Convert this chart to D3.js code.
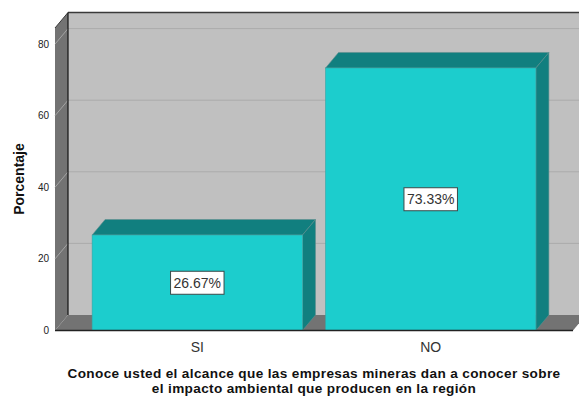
<!DOCTYPE html>
<html><head><meta charset="utf-8">
<script src="https://cdn.jsdelivr.net/npm/d3@7"></script>
<style>body{margin:0;background:#fff}svg{display:block}text{font-family:"Liberation Sans",Arial,sans-serif}</style>
</head><body>
<svg id="c" width="579" height="396"></svg>
<script>
const categories = ["SI", "NO"];
const values = [26.67, 73.33];
const labels = ["26.67%", "73.33%"];
const yTicks = [0, 20, 40, 60, 80];
const yTitle = "Porcentaje";
const xTitle = ["Conoce usted el alcance que las empresas mineras dan a conocer sobre", "el impacto ambiental que producen en la región"];

const svg = d3.select("#c");
const W = 579;
const dx = 13, dy = 15.5;
const x0 = 55, x1 = 573;
const y = d3.scaleLinear().domain([0, 84.5]).range([330.5, 28]);
const x = d3.scaleBand().domain(categories).range([x0, x1]).paddingInner(0.0987).paddingOuter(0.159);

const wallC = "#c0c0c0", sideC = "#737373", gridC = "#ababab";
const yb = y(0), yt = y(84.5);

// back wall
svg.append("rect").attr("x", x0 + dx).attr("y", yt - dy).attr("width", W).attr("height", yb - yt).attr("fill", wallC);
// side wall
svg.append("polygon").attr("points", [[x0, yt], [x0 + dx, yt - dy], [x0 + dx, yb - dy], [x0, yb]].join(" ")).attr("fill", sideC);
// gridlines
yTicks.slice(1).forEach(t => {
  svg.append("line").attr("x1", x0 + dx).attr("x2", W).attr("y1", y(t) - dy).attr("y2", y(t) - dy).attr("stroke", gridC).attr("stroke-width", 1);
  svg.append("line").attr("x1", x0).attr("x2", x0 + dx).attr("y1", y(t)).attr("y2", y(t) - dy).attr("stroke", "#a4a4a4").attr("stroke-width", 1);
});
// floor
svg.append("polygon").attr("points", [[x0, yb], [x1, yb], [x1 + dx, yb - dy], [x0 + dx, yb - dy]].join(" ")).attr("fill", sideC);
// edges
svg.append("line").attr("x1", x0 + dx).attr("x2", W).attr("y1", yt - dy).attr("y2", yt - dy).attr("stroke", "#3a3a3a").attr("stroke-width", 1.5);
svg.append("line").attr("x1", x0).attr("x2", x0 + dx).attr("y1", yt).attr("y2", yt - dy).attr("stroke", "#3a3a3a").attr("stroke-width", 1);
svg.append("line").attr("x1", x0 + dx).attr("x2", x0 + dx).attr("y1", yt - dy).attr("y2", yb - dy).attr("stroke", "#111").attr("stroke-width", 1.2);

// bars
const front = "#1ccdcd", dark = "#117f7f";
categories.forEach((c, i) => {
  const bx = x(c), bw = x.bandwidth(), by = y(values[i]);
  const g = svg.append("g");
  g.append("polygon").attr("points", [[bx, by], [bx + dx, by - dy], [bx + bw + dx, by - dy], [bx + bw, by]].join(" ")).attr("fill", dark).attr("stroke", "#5f8f8f").attr("stroke-width", 0.6);
  g.append("polygon").attr("points", [[bx + bw, by], [bx + bw + dx, by - dy], [bx + bw + dx, yb - dy], [bx + bw, yb]].join(" ")).attr("fill", dark).attr("stroke", "#5f8f8f").attr("stroke-width", 0.6);
  g.append("rect").attr("x", bx).attr("y", by).attr("width", bw).attr("height", yb - by).attr("fill", front).attr("stroke", "#3aa5a5").attr("stroke-width", 0.6);
  // label
  const cx = bx + bw / 2, cy = (by + yb) / 2;
  const t = g.append("text").attr("x", cx).attr("y", cy + 5).attr("text-anchor", "middle").attr("font-size", 14).attr("fill", "#333").text(labels[i]);
  const bb = t.node().getBBox();
  g.insert("rect", "text").attr("x", bb.x - 3).attr("y", cy - 11.5).attr("width", bb.width + 6).attr("height", 23).attr("fill", "#fff").attr("stroke", "#3a4a4a").attr("stroke-width", 1);
});

// floor front edge
svg.append("line").attr("x1", x0).attr("x2", x1).attr("y1", yb).attr("y2", yb).attr("stroke", "#222").attr("stroke-width", 1.5);

// y ticks
yTicks.forEach(t => {
  svg.append("text").attr("x", 49).attr("y", y(t) + 3.5).attr("text-anchor", "end").attr("font-size", 10).attr("fill", "#222").text(t);
});
// x labels
categories.forEach(c => {
  svg.append("text").attr("x", x(c) + x.bandwidth() / 2).attr("y", 352).attr("text-anchor", "middle").attr("font-size", 14).attr("fill", "#333").text(c);
});
// titles
svg.append("text").attr("transform", "translate(24,179) rotate(-90)").attr("text-anchor", "middle").attr("font-size", 14).attr("font-weight", "bold").attr("fill", "#111").text(yTitle);
xTitle.forEach((l, i) => {
  svg.append("text").attr("x", 314).attr("y", 377.5 + i * 15).attr("text-anchor", "middle").attr("font-size", 13.6).attr("letter-spacing", 0.35).attr("font-weight", "bold").attr("fill", "#111").text(l);
});
</script>
</body></html>
